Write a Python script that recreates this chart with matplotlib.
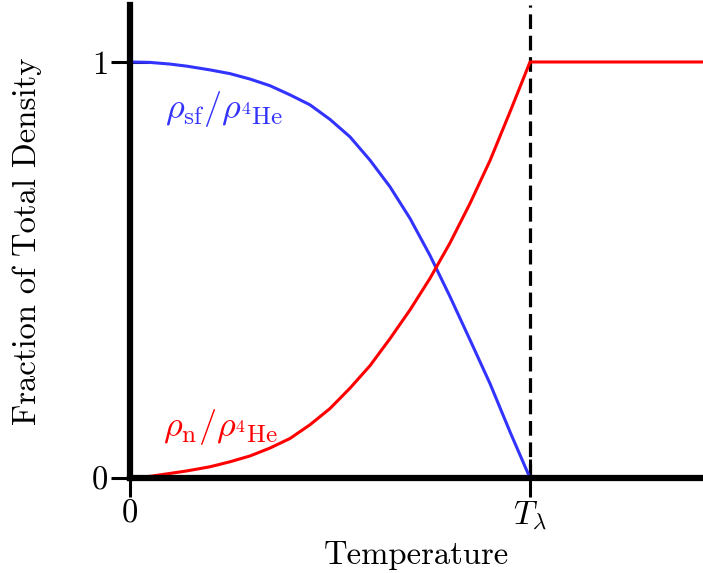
import matplotlib
matplotlib.use('Agg')
import matplotlib.pyplot as plt

plt.rcParams.update({
    'font.family': 'serif',
    'font.serif': ['cmr10'],
    'mathtext.fontset': 'cm',
    'axes.formatter.use_mathtext': True,
    'axes.unicode_minus': False,
})

# reduced temperature T / T_lambda
t_red = [0.0, 0.05, 0.10, 0.142, 0.20, 0.25, 0.30, 0.35, 0.40, 0.45, 0.50, 0.55,
         0.60, 0.65, 0.70, 0.75, 0.80, 0.85, 0.90, 0.95, 1.0]
# superfluid fraction rho_sf / rho_He4
rho_sf = [1.0, 0.999, 0.995, 0.990, 0.981, 0.972, 0.959, 0.943, 0.921, 0.897, 0.862,
          0.820, 0.764, 0.700, 0.624, 0.535, 0.436, 0.332, 0.227, 0.111, 0.0]
# normal fraction rho_n / rho_He4, flat above T_lambda
t_n = t_red + [1.45]
rho_n = [0.0, 0.004, 0.011, 0.017, 0.027, 0.039, 0.053, 0.072, 0.095, 0.128, 0.167,
         0.216, 0.270, 0.335, 0.404, 0.480, 0.565, 0.660, 0.763, 0.880, 1.0, 1.0]

x_ticks = [0, 1]
x_ticklabels = ['0', r'$T_\lambda$']
y_ticks = [0, 1]
y_ticklabels = ['0', '1']

fig = plt.figure(figsize=(7.03, 5.73), dpi=100)
ax = fig.add_axes([130 / 703, 95 / 573, 573 / 703, 473 / 573])

ax.plot(t_red, rho_sf, color='#3333ff', lw=2.2, solid_capstyle='butt',
        solid_joinstyle='round', zorder=3)
ax.plot(t_n, rho_n, color='red', lw=2.2, solid_capstyle='butt',
        solid_joinstyle='round', zorder=3)
# lambda point
ax.axvline(1.0, color='black', lw=2.3, ls=(0, (4.6, 2.1)), zorder=2)

ax.set_xlim(0, 1.4325)
ax.set_ylim(0, 1.137)

for side in ('top', 'right'):
    ax.spines[side].set_visible(False)
for side in ('left', 'bottom'):
    ax.spines[side].set_linewidth(4.5)
    ax.spines[side].set_zorder(4)

ax.set_xticks(x_ticks)
ax.set_xticklabels(x_ticklabels)
ax.set_yticks(y_ticks)
ax.set_yticklabels(y_ticklabels)
ax.tick_params(direction='inout', length=27, width=2.2, labelsize=23.5, pad=2)

ax.set_xlabel('Temperature', fontsize=23.5, labelpad=6)
ax.set_ylabel('Fraction of Total Density', fontsize=23.5, labelpad=36)

ax.text(0.088, 0.865, r'$\rho_{\mathrm{sf}}/\rho_{{}^4\mathrm{He}}$', color='#3333ff',
        fontsize=26, va='baseline')
ax.text(0.083, 0.1, r'$\rho_{\mathrm{n}}/\rho_{{}^4\mathrm{He}}$', color='red',
        fontsize=26, va='baseline')

fig.savefig('out.png', dpi=100)
